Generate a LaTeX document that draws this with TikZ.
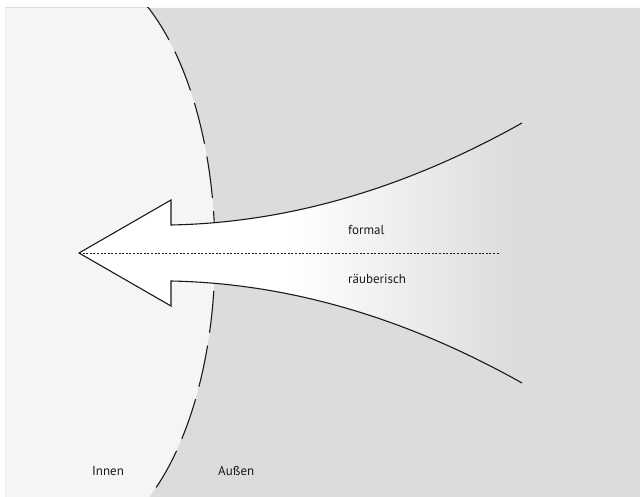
\documentclass[tikz,border=0pt]{standalone}
\usepackage{fontspec}
\setmainfont{PT Sans}
\definecolor{bglight}{HTML}{F5F5F5}
\definecolor{bgdark}{HTML}{DCDCDC}
\definecolor{ink}{HTML}{1A1A1A}
\tikzset{
  lbl/.style={anchor=west, inner sep=0pt, text=ink, font=\fontsize{13}{15}\selectfont},
  outline/.style={draw=ink, line width=1.1pt, line join=miter},
  border/.style={draw=ink, line width=1.1pt, dash pattern=on 42pt off 13pt},
  midline/.style={draw=ink, line width=0.8pt, dash pattern=on 2pt off 1.6pt}
}
\begin{document}
\begin{tikzpicture}[x=1pt,y=-1pt]
\useasboundingbox (0,0) rectangle (640,497);
\fill[white] (0,0) rectangle (640,497);
% background areas
\fill[bglight] (5,8) rectangle (640,497);
\begin{scope}
  \clip (5,8) rectangle (640,497);
  \fill[bgdark, even odd rule] (5,8) rectangle (640,497)
     (72,253) ellipse [x radius=143pt, y radius=290pt];
  \draw[border] (72,253) ellipse [x radius=143pt, y radius=290pt];
\end{scope}
% arrow
\coordinate (tip) at (79,253);
\coordinate (tr) at (522,123);
\coordinate (br) at (522,383);
\coordinate (dotend) at (500,253);
\path[fill=white] (tr) .. controls (405,188.7) and (288,222.7) .. (171,225)
   -- (171,200) -- (tip) -- (171,306) -- (171,281)
   .. controls (288,283.3) and (405,317.3) .. (br) -- cycle;
\begin{scope}
  \clip (tr) .. controls (405,188.7) and (288,222.7) .. (171,225)
   -- (171,200) -- (tip) -- (171,306) -- (171,281)
   .. controls (288,283.3) and (405,317.3) .. (br) -- cycle;
  \shade[left color=white, right color=bgdark] (290,100) rectangle (515,400);
  \fill[bgdark] (514,100) rectangle (530,400);
\end{scope}
\draw[outline] (tr) .. controls (405,188.7) and (288,222.7) .. (171,225)
   -- (171,200) -- (tip) -- (171,306) -- (171,281)
   .. controls (288,283.3) and (405,317.3) .. (br);
\draw[midline] (tip) -- (dotend);
% labels
\node[lbl] (formal) at (348,230) {formal};
\node[lbl] (raub) at (348,279) {räuberisch};
\node[lbl] (innen) at (92,471) {Innen};
\node[lbl] (aussen) at (218,471) {Außen};
\end{tikzpicture}
\end{document}
